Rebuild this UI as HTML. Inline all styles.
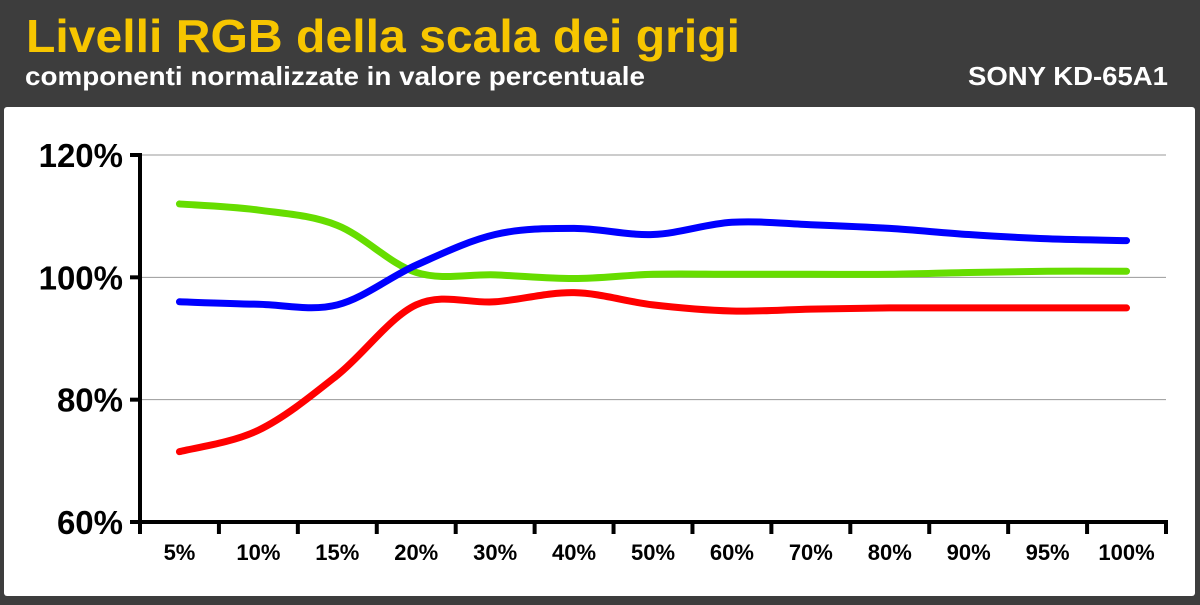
<!DOCTYPE html>
<html><head><meta charset="utf-8"><style>
body{margin:0;width:1200px;height:600px;background:#3d3d3d;overflow:hidden;font-family:"Liberation Sans",Arial,sans-serif}
</style></head><body>
<svg width="1200" height="600" xmlns="http://www.w3.org/2000/svg">
<rect x="0" y="0" width="1200" height="600" fill="#3d3d3d"/>
<text x="26" y="52" font-size="46" font-weight="bold" fill="#f7c600" textLength="714" lengthAdjust="spacingAndGlyphs" font-family="Liberation Sans, sans-serif">Livelli RGB della scala dei grigi</text>
<text x="25" y="85" font-size="26" font-weight="bold" fill="#fff" textLength="620" lengthAdjust="spacingAndGlyphs" font-family="Liberation Sans, sans-serif">componenti normalizzate in valore percentuale</text>
<text x="968" y="85" font-size="26" font-weight="bold" fill="#fff" textLength="200" lengthAdjust="spacingAndGlyphs" font-family="Liberation Sans, sans-serif">SONY KD-65A1</text>
<rect x="4" y="107" width="1191" height="489" rx="3" fill="#fff"/>
<g id="grid"></g><g id="lines"></g><g id="axes"></g>
</svg>
<script>
const categories=["5%","10%","15%","20%","30%","40%","50%","60%","70%","80%","90%","95%","100%"];
const yTicks=[60,80,100,120];
const redValues=[71.5,75,84,95.5,96,97.5,95.5,94.5,94.8,95,95,95,95];
const greenValues=[112,111,108.5,100.8,100.4,99.8,100.5,100.5,100.5,100.5,100.8,101,101];
const blueValues=[96,95.6,95.5,102,107,108,107,109,108.6,108,107,106.3,106];
const NS="http://www.w3.org/2000/svg";
const x0=140,x1=1166,band=(x1-x0)/categories.length;
const xPos=i=>x0+band*(i+0.5);
const yPos=v=>522-(v-60)*(522-155)/60;
function mk(t,a,p){const e=document.createElementNS(NS,t);for(const k in a)e.setAttribute(k,a[k]);p.appendChild(e);return e;}
const grid=document.getElementById('grid'),axes=document.getElementById('axes'),lines=document.getElementById('lines');
yTicks.forEach(v=>{
  const y=yPos(v);
  if(v>60){const l=mk('line',{x1:x0,x2:x1,y1:y,y2:y,stroke:'#999','stroke-width':1},grid);
  
  }
  const t=mk('line',{x1:130,x2:x0,y1:y,y2:y,stroke:'#000','stroke-width':4},axes);
  
  
  const tx=mk('text',{x:123,y:y+12,'font-size':33,'font-weight':'bold','text-anchor':'end','font-family':'Liberation Sans, sans-serif'},axes);
  tx.textContent=v+'%';
  
  
});
const ya=mk('line',{x1:x0,x2:x0,y1:153,y2:524,stroke:'#000','stroke-width':4},axes);


const xa=mk('line',{x1:x0,x2:x1+2,y1:522,y2:522,stroke:'#000','stroke-width':4},axes);


for(let i=0;i<=categories.length;i++){
  const x=x0+band*i;
  const t=mk('line',{x1:x,x2:x,y1:520,y2:534,stroke:'#000','stroke-width':4},axes);
  
  
}
categories.forEach((c,i)=>{
  const t=mk('text',{x:xPos(i),y:560,'font-size':22,'font-weight':'bold','text-anchor':'middle','font-family':'Liberation Sans, sans-serif'},axes);
  t.textContent=c;
  
  
});
function path(vals){
  const p=vals.map((v,i)=>[xPos(i),yPos(v)]);
  let d='M'+p[0][0]+','+p[0][1];
  for(let i=0;i<p.length-1;i++){
    const a=p[i-1]||p[i],b=p[i],c=p[i+1],e=p[i+2]||c;
    d+=' C'+(b[0]+(c[0]-a[0])/6)+','+(b[1]+(c[1]-a[1])/6)+' '+(c[0]-(e[0]-b[0])/6)+','+(c[1]-(e[1]-b[1])/6)+' '+c[0]+','+c[1];
  }
  return d;
}
[[redValues,'#ff0000','red-series'],[greenValues,'#66dd00','green-series'],[blueValues,'#0000ff','blue-series']].forEach(s=>{
  const l=mk('path',{d:path(s[0]),fill:'none',stroke:s[1],'stroke-width':7,'stroke-linecap':'round'},lines);
  
  
});
</script>
</body></html>
